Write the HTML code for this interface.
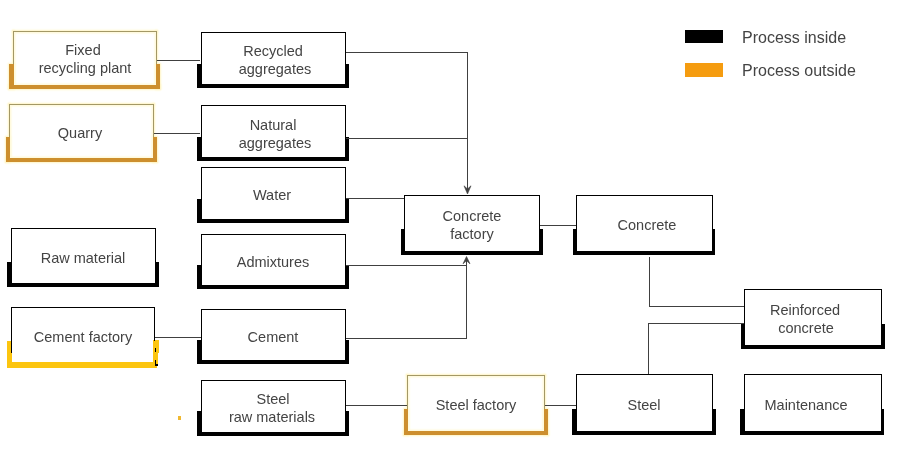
<!DOCTYPE html>
<html><head><meta charset="utf-8"><style>
html,body{margin:0;padding:0;background:#fff;}
body{width:900px;height:449px;position:relative;overflow:hidden;font-family:"Liberation Sans",sans-serif;}
div{position:absolute;}
.t{width:200px;text-align:center;line-height:20px;color:#444444;white-space:nowrap;will-change:transform;}
.lg{font-size:16px;line-height:20px;color:#444444;white-space:nowrap;will-change:transform;}
</style></head><body>
<div style="left:13px;top:31px;width:144px;height:1px;background:#fff5c4;box-shadow:0 0 2px 1px #fff5c4;"></div>
<div style="left:13px;top:31px;width:1px;height:55px;background:#fff5c4;box-shadow:0 0 2px 1px #fff5c4;"></div>
<div style="left:156px;top:31px;width:1px;height:55px;background:#fff5c4;box-shadow:0 0 2px 1px #fff5c4;"></div>
<div style="left:9px;top:64px;width:5px;height:25px;background:#fff5c4;box-shadow:0 0 2px 1px #fff5c4;"></div>
<div style="left:156px;top:64px;width:4px;height:25px;background:#fff5c4;box-shadow:0 0 2px 1px #fff5c4;"></div>
<div style="left:9px;top:85px;width:151px;height:4px;background:#fff5c4;box-shadow:0 0 2px 1px #fff5c4;"></div>
<div style="left:14px;top:32px;width:142px;height:53px;background:transparent;box-shadow:inset 0 0 2px 1px #fffbe2;"></div>
<div style="left:13px;top:31px;width:144px;height:1px;background:#a39866;"></div>
<div style="left:13px;top:31px;width:1px;height:55px;background:#a39866;"></div>
<div style="left:156px;top:31px;width:1px;height:55px;background:#a39866;"></div>
<div style="left:9px;top:64px;width:5px;height:25px;background:#cd8f2e;"></div>
<div style="left:156px;top:64px;width:4px;height:25px;background:#cd8f2e;"></div>
<div style="left:9px;top:85px;width:151px;height:4px;background:#cd8f2e;"></div>
<div style="left:201px;top:32px;width:145px;height:1px;background:#000;"></div>
<div style="left:201px;top:32px;width:1px;height:53px;background:#000;"></div>
<div style="left:345px;top:32px;width:1px;height:53px;background:#000;"></div>
<div style="left:197px;top:64px;width:5px;height:24px;background:#000;"></div>
<div style="left:345px;top:64px;width:4px;height:24px;background:#000;"></div>
<div style="left:197px;top:84px;width:152px;height:4px;background:#000;"></div>
<div style="left:9px;top:104px;width:145px;height:1px;background:#fff5c4;box-shadow:0 0 2px 1px #fff5c4;"></div>
<div style="left:9px;top:104px;width:1px;height:55px;background:#fff5c4;box-shadow:0 0 2px 1px #fff5c4;"></div>
<div style="left:153px;top:104px;width:1px;height:55px;background:#fff5c4;box-shadow:0 0 2px 1px #fff5c4;"></div>
<div style="left:6px;top:137px;width:4px;height:25px;background:#fff5c4;box-shadow:0 0 2px 1px #fff5c4;"></div>
<div style="left:153px;top:137px;width:4px;height:25px;background:#fff5c4;box-shadow:0 0 2px 1px #fff5c4;"></div>
<div style="left:6px;top:158px;width:151px;height:4px;background:#fff5c4;box-shadow:0 0 2px 1px #fff5c4;"></div>
<div style="left:10px;top:105px;width:143px;height:53px;background:transparent;box-shadow:inset 0 0 2px 1px #fffbe2;"></div>
<div style="left:9px;top:104px;width:145px;height:1px;background:#a39866;"></div>
<div style="left:9px;top:104px;width:1px;height:55px;background:#a39866;"></div>
<div style="left:153px;top:104px;width:1px;height:55px;background:#a39866;"></div>
<div style="left:6px;top:137px;width:4px;height:25px;background:#cd8f2e;"></div>
<div style="left:153px;top:137px;width:4px;height:25px;background:#cd8f2e;"></div>
<div style="left:6px;top:158px;width:151px;height:4px;background:#cd8f2e;"></div>
<div style="left:201px;top:105px;width:145px;height:1px;background:#000;"></div>
<div style="left:201px;top:105px;width:1px;height:53px;background:#000;"></div>
<div style="left:345px;top:105px;width:1px;height:53px;background:#000;"></div>
<div style="left:197px;top:137px;width:5px;height:24px;background:#000;"></div>
<div style="left:345px;top:137px;width:4px;height:24px;background:#000;"></div>
<div style="left:197px;top:157px;width:152px;height:4px;background:#000;"></div>
<div style="left:201px;top:167px;width:145px;height:1px;background:#000;"></div>
<div style="left:201px;top:167px;width:1px;height:53px;background:#000;"></div>
<div style="left:345px;top:167px;width:1px;height:53px;background:#000;"></div>
<div style="left:197px;top:199px;width:5px;height:24px;background:#000;"></div>
<div style="left:345px;top:199px;width:4px;height:24px;background:#000;"></div>
<div style="left:197px;top:219px;width:152px;height:4px;background:#000;"></div>
<div style="left:11px;top:228px;width:145px;height:1px;background:#000;"></div>
<div style="left:11px;top:228px;width:1px;height:56px;background:#000;"></div>
<div style="left:155px;top:228px;width:1px;height:56px;background:#000;"></div>
<div style="left:7px;top:262px;width:5px;height:25px;background:#000;"></div>
<div style="left:155px;top:262px;width:4px;height:25px;background:#000;"></div>
<div style="left:7px;top:283px;width:152px;height:4px;background:#000;"></div>
<div style="left:201px;top:234px;width:145px;height:1px;background:#000;"></div>
<div style="left:201px;top:234px;width:1px;height:52px;background:#000;"></div>
<div style="left:345px;top:234px;width:1px;height:52px;background:#000;"></div>
<div style="left:197px;top:265px;width:5px;height:24px;background:#000;"></div>
<div style="left:345px;top:265px;width:4px;height:24px;background:#000;"></div>
<div style="left:197px;top:285px;width:152px;height:4px;background:#000;"></div>
<div style="left:201px;top:309px;width:145px;height:1px;background:#000;"></div>
<div style="left:201px;top:309px;width:1px;height:52px;background:#000;"></div>
<div style="left:345px;top:309px;width:1px;height:52px;background:#000;"></div>
<div style="left:197px;top:340px;width:5px;height:24px;background:#000;"></div>
<div style="left:345px;top:340px;width:4px;height:24px;background:#000;"></div>
<div style="left:197px;top:360px;width:152px;height:4px;background:#000;"></div>
<div style="left:404px;top:195px;width:136px;height:1px;background:#000;"></div>
<div style="left:404px;top:195px;width:1px;height:57px;background:#000;"></div>
<div style="left:539px;top:195px;width:1px;height:57px;background:#000;"></div>
<div style="left:401px;top:229px;width:4px;height:26px;background:#000;"></div>
<div style="left:539px;top:229px;width:4px;height:26px;background:#000;"></div>
<div style="left:401px;top:251px;width:142px;height:4px;background:#000;"></div>
<div style="left:576px;top:195px;width:137px;height:1px;background:#000;"></div>
<div style="left:576px;top:195px;width:1px;height:57px;background:#000;"></div>
<div style="left:712px;top:195px;width:1px;height:57px;background:#000;"></div>
<div style="left:573px;top:229px;width:4px;height:26px;background:#000;"></div>
<div style="left:712px;top:229px;width:3px;height:26px;background:#000;"></div>
<div style="left:573px;top:251px;width:142px;height:4px;background:#000;"></div>
<div style="left:744px;top:289px;width:138px;height:1px;background:#000;"></div>
<div style="left:744px;top:289px;width:1px;height:57px;background:#000;"></div>
<div style="left:881px;top:289px;width:1px;height:57px;background:#000;"></div>
<div style="left:741px;top:324px;width:4px;height:25px;background:#000;"></div>
<div style="left:881px;top:324px;width:4px;height:25px;background:#000;"></div>
<div style="left:741px;top:345px;width:144px;height:4px;background:#000;"></div>
<div style="left:201px;top:380px;width:145px;height:1px;background:#000;"></div>
<div style="left:201px;top:380px;width:1px;height:53px;background:#000;"></div>
<div style="left:345px;top:380px;width:1px;height:53px;background:#000;"></div>
<div style="left:197px;top:411px;width:5px;height:25px;background:#000;"></div>
<div style="left:345px;top:411px;width:4px;height:25px;background:#000;"></div>
<div style="left:197px;top:432px;width:152px;height:4px;background:#000;"></div>
<div style="left:407px;top:375px;width:138px;height:1px;background:#fff5c4;box-shadow:0 0 2px 1px #fff5c4;"></div>
<div style="left:407px;top:375px;width:1px;height:57px;background:#fff5c4;box-shadow:0 0 2px 1px #fff5c4;"></div>
<div style="left:544px;top:375px;width:1px;height:57px;background:#fff5c4;box-shadow:0 0 2px 1px #fff5c4;"></div>
<div style="left:404px;top:409px;width:4px;height:26px;background:#fff5c4;box-shadow:0 0 2px 1px #fff5c4;"></div>
<div style="left:544px;top:409px;width:4px;height:26px;background:#fff5c4;box-shadow:0 0 2px 1px #fff5c4;"></div>
<div style="left:404px;top:431px;width:144px;height:4px;background:#fff5c4;box-shadow:0 0 2px 1px #fff5c4;"></div>
<div style="left:408px;top:376px;width:136px;height:55px;background:transparent;box-shadow:inset 0 0 2px 1px #fffbe2;"></div>
<div style="left:407px;top:375px;width:138px;height:1px;background:#a39866;"></div>
<div style="left:407px;top:375px;width:1px;height:57px;background:#a39866;"></div>
<div style="left:544px;top:375px;width:1px;height:57px;background:#a39866;"></div>
<div style="left:404px;top:409px;width:4px;height:26px;background:#cd8f2e;"></div>
<div style="left:544px;top:409px;width:4px;height:26px;background:#cd8f2e;"></div>
<div style="left:404px;top:431px;width:144px;height:4px;background:#cd8f2e;"></div>
<div style="left:576px;top:374px;width:137px;height:1px;background:#000;"></div>
<div style="left:576px;top:374px;width:1px;height:58px;background:#000;"></div>
<div style="left:712px;top:374px;width:1px;height:58px;background:#000;"></div>
<div style="left:572px;top:409px;width:5px;height:26px;background:#000;"></div>
<div style="left:712px;top:409px;width:4px;height:26px;background:#000;"></div>
<div style="left:572px;top:431px;width:144px;height:4px;background:#000;"></div>
<div style="left:744px;top:374px;width:138px;height:1px;background:#000;"></div>
<div style="left:744px;top:374px;width:1px;height:58px;background:#000;"></div>
<div style="left:881px;top:374px;width:1px;height:58px;background:#000;"></div>
<div style="left:740px;top:409px;width:5px;height:26px;background:#000;"></div>
<div style="left:881px;top:409px;width:3px;height:26px;background:#000;"></div>
<div style="left:740px;top:431px;width:144px;height:4px;background:#000;"></div>
<div style="left:7px;top:341px;width:5px;height:27px;background:#fcc50f;"></div>
<div style="left:153px;top:340px;width:6px;height:13px;background:#fcc50f;"></div>
<div style="left:153px;top:352px;width:5px;height:14px;background:#fcc50f;"></div>
<div style="left:7px;top:362px;width:150px;height:6px;background:#fcc50f;"></div>
<div style="left:11px;top:307px;width:144px;height:1px;background:#000;"></div>
<div style="left:11px;top:307px;width:1px;height:46px;background:#000;"></div>
<div style="left:154px;top:307px;width:1px;height:34px;background:#000;"></div>
<div style="left:155px;top:348px;width:1px;height:4px;background:#000;"></div>
<div style="left:155px;top:360px;width:1px;height:5px;background:#000;"></div>
<div style="left:155px;top:364px;width:3px;height:2px;background:#000;"></div>
<div style="left:157px;top:60px;width:43px;height:1px;background:#404040;"></div>
<div style="left:154px;top:133px;width:46px;height:1px;background:#404040;"></div>
<div style="left:346px;top:52px;width:122px;height:1px;background:#404040;"></div>
<div style="left:467px;top:52px;width:1px;height:139px;background:#404040;"></div>
<div style="left:346px;top:138px;width:122px;height:1px;background:#404040;"></div>
<div style="left:346px;top:198px;width:58px;height:1px;background:#404040;"></div>
<div style="left:346px;top:265px;width:121px;height:1px;background:#404040;"></div>
<div style="left:346px;top:338px;width:121px;height:1px;background:#404040;"></div>
<div style="left:466px;top:260px;width:1px;height:79px;background:#404040;"></div>
<div style="left:155px;top:337px;width:46px;height:1px;background:#404040;"></div>
<div style="left:540px;top:225px;width:36px;height:1px;background:#404040;"></div>
<div style="left:649px;top:257px;width:1px;height:50px;background:#404040;"></div>
<div style="left:649px;top:306px;width:95px;height:1px;background:#404040;"></div>
<div style="left:648px;top:323px;width:1px;height:51px;background:#404040;"></div>
<div style="left:648px;top:323px;width:96px;height:1px;background:#404040;"></div>
<div style="left:346px;top:405px;width:61px;height:1px;background:#404040;"></div>
<div style="left:545px;top:405px;width:31px;height:1px;background:#404040;"></div>
<svg style="position:absolute;left:0;top:0" width="900" height="449"><path d="M467.5 194 L464 185.8 L467.5 189 L471 185.8 Z" fill="#404040" stroke="#404040" stroke-width="0.6" stroke-linejoin="miter"/><path d="M466.5 256.5 L463 263.8 L466.5 260.8 L470 263.8 Z" fill="#404040" stroke="#404040" stroke-width="0.6"/></svg>
<div style="left:178px;top:416px;width:3px;height:4px;background:#f0b830;"></div>
<div style="left:685px;top:30px;width:38px;height:13px;background:#000;"></div>
<div style="left:685px;top:63px;width:38px;height:14px;background:#f59c10;"></div>
<div class="t" style="left:-17.4px;top:40px;font-size:14.5px">Fixed</div>
<div class="t" style="left:-15.4px;top:58px;font-size:14.5px">recycling plant</div>
<div class="t" style="left:173.3px;top:41px;font-size:14.5px">Recycled</div>
<div class="t" style="left:175.3px;top:59px;font-size:14.5px">aggregates</div>
<div class="t" style="left:-19.7px;top:123px;font-size:14.5px">Quarry</div>
<div class="t" style="left:172.8px;top:115px;font-size:14.5px">Natural</div>
<div class="t" style="left:174.6px;top:133px;font-size:14.5px">aggregates</div>
<div class="t" style="left:172.1px;top:185px;font-size:14.5px">Water</div>
<div class="t" style="left:-17.4px;top:248px;font-size:14.5px">Raw material</div>
<div class="t" style="left:172.5px;top:252px;font-size:14.5px">Admixtures</div>
<div class="t" style="left:-17.5px;top:327px;font-size:14.5px">Cement factory</div>
<div class="t" style="left:173.1px;top:327px;font-size:14.5px">Cement</div>
<div class="t" style="left:372.0px;top:206px;font-size:14.5px">Concrete</div>
<div class="t" style="left:372.0px;top:224px;font-size:14.5px">factory</div>
<div class="t" style="left:546.9px;top:215px;font-size:14.5px">Concrete</div>
<div class="t" style="left:705.3px;top:300px;font-size:14.5px">Reinforced</div>
<div class="t" style="left:705.7px;top:318px;font-size:14.5px">concrete</div>
<div class="t" style="left:172.6px;top:389px;font-size:14.5px">Steel</div>
<div class="t" style="left:171.9px;top:407px;font-size:14.5px">raw materials</div>
<div class="t" style="left:376.2px;top:395px;font-size:14.5px">Steel factory</div>
<div class="t" style="left:543.5px;top:395px;font-size:14.5px">Steel</div>
<div class="t" style="left:705.8px;top:395px;font-size:14.5px">Maintenance</div>
<div class="lg" style="left:742px;top:28px">Process inside</div>
<div class="lg" style="left:742px;top:61px">Process outside</div>
</body></html>
